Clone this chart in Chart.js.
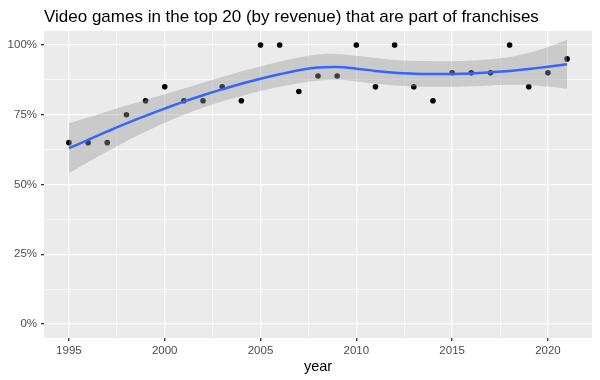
<!DOCTYPE html>
<html>
<head>
<meta charset="utf-8">
<script src="https://cdn.jsdelivr.net/npm/chart.js@4.4.1/dist/chart.umd.min.js"></script>
<style>
  html, body { margin: 0; padding: 0; background: #ffffff; }
  #wrap { width: 600px; height: 380px; position: relative; }
</style>
</head>
<body>
<div id="wrap"><canvas id="c"></canvas></div>
<script>
const chartTitle = "Video games in the top 20 (by revenue) that are part of franchises";
const xAxisTitle = "year";

const years = [1995, 1996, 1997, 1998, 1999, 2000, 2001, 2002, 2003, 2004, 2005, 2006, 2007,
               2008, 2009, 2010, 2011, 2012, 2013, 2014, 2015, 2016, 2017, 2018, 2019, 2020, 2021];
const franchiseShare = [0.65, 0.65, 0.65, 0.75, 0.80, 0.85, 0.80, 0.80, 0.85, 0.80, 1.00, 1.00, 0.833,
                        0.889, 0.889, 1.00, 0.85, 1.00, 0.85, 0.80, 0.90, 0.90, 0.90, 1.00, 0.85, 0.90, 0.95];
// smoothed trend and its confidence band at each year
const trendFit   = [0.630, 0.660, 0.690, 0.719, 0.746, 0.772, 0.797, 0.820, 0.841, 0.861, 0.879, 0.895, 0.909,
                    0.919, 0.921, 0.915, 0.907, 0.900, 0.897, 0.896, 0.896, 0.898, 0.902, 0.907, 0.914, 0.922, 0.931];
const trendLower = [0.541, 0.580, 0.618, 0.655, 0.689, 0.721, 0.750, 0.775, 0.797, 0.817, 0.835, 0.850, 0.863,
                    0.872, 0.875, 0.869, 0.861, 0.855, 0.851, 0.850, 0.850, 0.852, 0.855, 0.857, 0.856, 0.851, 0.843];
const trendUpper = [0.719, 0.740, 0.762, 0.783, 0.803, 0.823, 0.844, 0.865, 0.885, 0.905, 0.923, 0.940, 0.955,
                    0.966, 0.968, 0.961, 0.953, 0.946, 0.943, 0.942, 0.942, 0.944, 0.949, 0.957, 0.972, 0.993, 1.019];
const yTicks = [0, 0.125, 0.25, 0.375, 0.5, 0.625, 0.75, 0.875, 1.0];
const xTicks = [1995, 1997.5, 2000, 2002.5, 2005, 2007.5, 2010, 2012.5, 2015, 2017.5, 2020];

const pts = (ys) => years.map((yr, i) => ({ x: yr, y: ys[i] }));
const isMajorY = (v) => Math.abs(v * 4 - Math.round(v * 4)) < 1e-9;
const isMajorX = (v) => Math.abs(v / 5 - Math.round(v / 5)) < 1e-9;

const panelBg = {
  id: 'panelBg',
  beforeDraw(chart) {
    const { ctx, chartArea: a } = chart;
    ctx.save();
    ctx.fillStyle = '#EBEBEB';
    ctx.fillRect(a.left, a.top, a.right - a.left, a.bottom - a.top);
    ctx.restore();
  },
  afterDraw(chart) {
    const { ctx } = chart;
    ctx.save();
    ctx.fillStyle = '#000000';
    ctx.font = '17px "Liberation Sans", Arial, sans-serif';
    ctx.textBaseline = 'alphabetic';
    ctx.textAlign = 'left';
    ctx.fillText(chartTitle, 44, 22);
    ctx.restore();
  }
};

new Chart(document.getElementById('c'), {
  type: 'line',
  data: {
    datasets: [
      { label: 'fit', data: pts(trendFit), borderColor: '#3366FF', borderWidth: 2.5,
        pointRadius: 0, fill: false, tension: 0.4, order: 0 },
      { label: 'upper', data: pts(trendUpper), borderWidth: 0, borderColor: 'rgba(0,0,0,0)',
        backgroundColor: 'rgba(153,153,153,0.4)', pointRadius: 0, fill: 2,
        tension: 0.4, order: 1 },
      { label: 'lower', data: pts(trendLower), borderWidth: 0, borderColor: 'rgba(0,0,0,0)',
        pointRadius: 0, fill: false, tension: 0.4, order: 1 },
      { label: 'share', data: pts(franchiseShare), showLine: false, pointRadius: 2.8,
        pointBackgroundColor: '#000000', pointBorderWidth: 0, borderColor: '#000000', order: 2 }
    ]
  },
  options: {
    responsive: true,
    maintainAspectRatio: false,
    animation: false,
    layout: { padding: { top: 31, right: 8, left: 0, bottom: 0 } },
    plugins: { legend: { display: false }, tooltip: { enabled: false }, title: { display: false } },
    scales: {
      x: {
        type: 'linear', min: 1993.7, max: 2022.3,
        afterBuildTicks(scale) { scale.ticks = xTicks.map(v => ({ value: v })); },
        afterFit(scale) { scale.height = 42; },
        border: { display: false },
        grid: {
          color: '#FFFFFF',
          lineWidth: (c) => isMajorX(c.tick.value) ? 1.3 : 0.6,
          tickColor: (c) => isMajorX(c.tick.value) ? '#333333' : 'rgba(0,0,0,0)',
          tickLength: 3, drawTicks: true
        },
        ticks: {
          autoSkip: false, maxRotation: 0, padding: 3, color: '#4D4D4D',
          font: { family: '"Liberation Sans", Arial, sans-serif', size: 11.5 },
          callback: (v) => isMajorX(v) ? String(v) : ''
        },
        title: { display: true, text: xAxisTitle, color: '#000000', padding: { top: 0, bottom: 4 },
          font: { family: '"Liberation Sans", Arial, sans-serif', size: 14.5 } }
      },
      y: {
        type: 'linear', min: -0.05, max: 1.05,
        afterBuildTicks(scale) { scale.ticks = yTicks.map(v => ({ value: v })); },
        afterFit(scale) { scale.width = 44; },
        border: { display: false },
        grid: {
          color: '#FFFFFF',
          lineWidth: (c) => isMajorY(c.tick.value) ? 1.3 : 0.6,
          tickColor: (c) => isMajorY(c.tick.value) ? '#333333' : 'rgba(0,0,0,0)',
          tickLength: 3, drawTicks: true
        },
        ticks: {
          autoSkip: false, padding: 4, color: '#4D4D4D',
          font: { family: '"Liberation Sans", Arial, sans-serif', size: 11.5 },
          callback: (v) => isMajorY(v) ? Math.round(v * 100) + '%' : ''
        }
      }
    }
  },
  plugins: [panelBg]
});
</script>
</body>
</html>
